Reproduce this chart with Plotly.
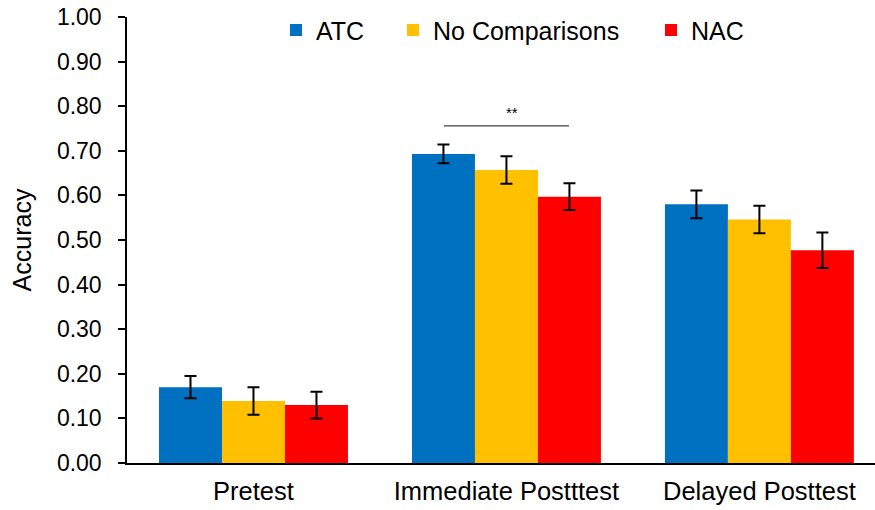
import plotly.graph_objects as go

categories = ["Pretest", "Immediate Postttest", "Delayed Posttest"]
series_names = ["ATC", "No Comparisons", "NAC"]
atc_values = [0.170, 0.693, 0.580]
nocomp_values = [0.139, 0.657, 0.546]
nac_values = [0.130, 0.597, 0.477]
atc_err = [0.025, 0.021, 0.031]
nocomp_err = [0.031, 0.031, 0.031]
nac_err = [0.030, 0.030, 0.040]
colors = ["#0070C0", "#FFC000", "#FF0000"]
y_ticks = [0.0, 0.1, 0.2, 0.3, 0.4, 0.5, 0.6, 0.7, 0.8, 0.9, 1.0]

FONT = "Liberation Sans, Arial, sans-serif"
legend_ids = ["legend", "legend2", "legend3"]
legend_x = [0.1992, 0.3556, 0.7005]

fig = go.Figure()
for name, vals, errs, col, lid in zip(series_names,
                                      [atc_values, nocomp_values, nac_values],
                                      [atc_err, nocomp_err, nac_err], colors, legend_ids):
    fig.add_trace(go.Bar(
        x=categories, y=vals, name=name, legend=lid,
        marker=dict(color=col, line=dict(width=0)),
        error_y=dict(type="data", array=errs, visible=True,
                     color="black", thickness=2, width=6),
    ))

# significance marker
fig.add_shape(type="line", xref="x", yref="y", x0=0.753, x1=1.247,
              y0=0.756, y1=0.756, line=dict(color="#404040", width=1.3))
fig.add_annotation(x=1.02, y=0.787, xref="x", yref="y", text="**",
                   showarrow=False, font=dict(family=FONT, size=15, color="black"))

leg_common = dict(orientation="h", xanchor="left", y=1.022, yanchor="top",
                  font=dict(family=FONT, size=25, color="black"),
                  bgcolor="rgba(0,0,0,0)")
fig.update_layout(
    width=875, height=510,
    margin=dict(l=127, r=0, t=17, b=47),
    paper_bgcolor="white", plot_bgcolor="white",
    barmode="group", bargap=0.253, bargroupgap=0,
    font=dict(family=FONT, size=24, color="black"),
    showlegend=True,
    legend=dict(x=legend_x[0], **leg_common),
    legend2=dict(x=legend_x[1], **leg_common),
    legend3=dict(x=legend_x[2], **leg_common),
)
fig.update_xaxes(
    type="category", range=[-0.5, 2.457],
    showline=True, linecolor="black", linewidth=2,
    ticks="outside", ticklen=4, tickcolor="rgba(0,0,0,0)",
    showgrid=False, zeroline=False,
    tickfont=dict(family=FONT, size=25.5, color="black"),
)
fig.update_yaxes(
    range=[0, 1.0], tickvals=y_ticks, tickformat=".2f",
    showline=True, linecolor="black", linewidth=1.5,
    ticks="outside", ticklen=7, tickcolor="black", tickwidth=1.5,
    ticklabelstandoff=12,
    showgrid=False, zeroline=False,
    tickfont=dict(family=FONT, size=23, color="black"),
    title=dict(text="Accuracy", font=dict(family=FONT, size=25, color="black"), standoff=18),
)

fig.write_html("out.html")
